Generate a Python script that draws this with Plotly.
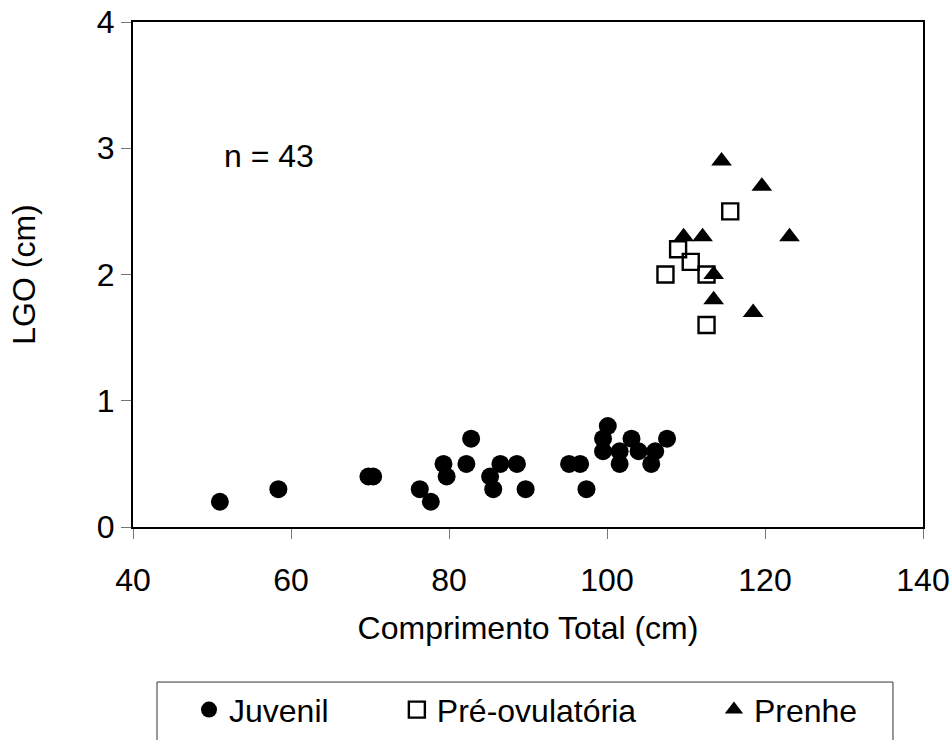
import plotly.graph_objects as go

juv_x = [51, 58.4, 69.8, 70.4, 76.3, 77.7, 79.3, 79.7, 82.2, 82.8, 85.2, 86.5, 85.6, 88.6,
         89.7, 95.2, 96.6, 97.4, 100.1, 99.5, 99.5, 101.6, 101.6, 103.1, 104.0, 106.1, 105.6, 107.6]
juv_y = [0.2, 0.3, 0.4, 0.4, 0.3, 0.2, 0.5, 0.4, 0.5, 0.7, 0.4, 0.5, 0.3, 0.5,
         0.3, 0.5, 0.5, 0.3, 0.8, 0.7, 0.6, 0.6, 0.5, 0.7, 0.6, 0.6, 0.5, 0.7]

pre_x = [115.6, 109.0, 110.6, 107.4, 112.6, 112.6]
pre_y = [2.5, 2.2, 2.1, 2.0, 2.0, 1.6]

pren_x = [114.5, 119.6, 109.7, 112.1, 123.1, 113.5, 113.5, 118.5]
pren_y = [2.9, 2.7, 2.3, 2.3, 2.3, 2.0, 1.8, 1.7]

FONT = "Liberation Sans, Arial, sans-serif"
FS = 32

fig = go.Figure()
fig.add_trace(go.Scatter(x=juv_x, y=juv_y, mode="markers", name="Juvenil", legend="legend",
                         marker=dict(symbol="circle", size=18, color="black", line=dict(width=0))))
fig.add_trace(go.Scatter(x=pre_x, y=pre_y, mode="markers", name="Pré-ovulatória", legend="legend2",
                         marker=dict(symbol="square-open", size=16, color="black", line=dict(width=2.4))))
fig.add_trace(go.Scatter(x=pren_x, y=pren_y, mode="markers", name="Prenhe", legend="legend3",
                         marker=dict(symbol="triangle-up", size=18, color="black", line=dict(width=0))))

fig.add_annotation(x=51.3, y=2.94, xref="x", yref="y", text="n = 43", showarrow=False,
                   xanchor="left", yanchor="middle", font=dict(size=FS, color="black", family=FONT))

# legend frame
fig.add_shape(type="rect", xref="paper", yref="paper", x0=0.0304, x1=0.962, y0=-0.307, y1=-0.46,
              line=dict(color="#333333", width=1), fillcolor="rgba(0,0,0,0)", layer="below")

axis_common = dict(showgrid=False, zeroline=False, showline=True, linecolor="black", linewidth=2,
                   mirror=True, ticks="outside", ticklen=10, tickcolor="#777777", tickwidth=1,
                   tickfont=dict(size=FS, color="black", family=FONT))

fig.update_xaxes(range=[40, 140], dtick=20, tick0=40, ticklabelstandoff=14,
                 title=dict(text="Comprimento Total (cm)", font=dict(size=FS, color="black", family=FONT), standoff=19),
                 **axis_common)
fig.update_yaxes(range=[0, 4], dtick=1, tick0=0,
                 title=dict(text="LGO (cm)", font=dict(size=FS, color="black", family=FONT), standoff=52),
                 **axis_common)

leg_common = dict(orientation="h", yanchor="middle", xanchor="left", y=-0.362,
                  bgcolor="rgba(0,0,0,0)", borderwidth=0,
                  font=dict(size=FS, color="black", family=FONT))

fig.update_layout(
    width=950, height=740,
    margin=dict(l=133, r=27, t=22, b=213, autoexpand=False),
    plot_bgcolor="white", paper_bgcolor="white",
    font=dict(family=FONT, color="black"),
    showlegend=True,
    legend=dict(x=0.0709, **leg_common),
    legend2=dict(x=0.334, **leg_common),
    legend3=dict(x=0.7354, **leg_common),
)

fig.write_html("out.html")
